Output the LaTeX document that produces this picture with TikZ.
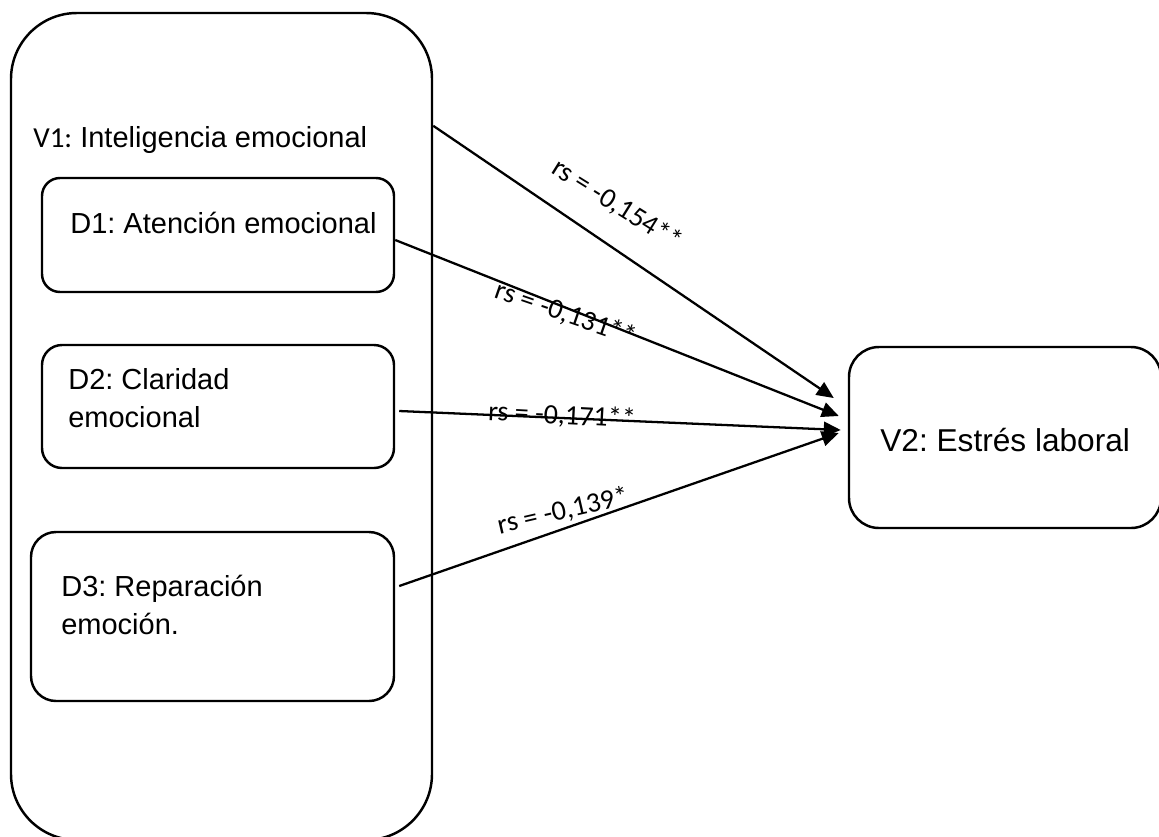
\documentclass[tikz,border=0pt]{standalone}
\usepackage{fontspec}
\setmainfont{Liberation Sans}
\newfontfamily\calibri{Carlito}
\usetikzlibrary{arrows.meta}
\frenchspacing
\def\px{0.02cm}
\tikzset{
  varbox/.style={draw,line width=1.4pt,inner sep=0pt},
  txt/.style={anchor=base west,inner sep=0pt,align=left,font=\fontsize{16.5}{21.5}\selectfont},
  rlbl/.style={inner sep=0pt,font=\calibri\fontsize{16}{19}\selectfont},
  link/.style={line width=1.3pt,-{Triangle[length=0.34cm,width=0.3cm]}}
}

\begin{document}
\begin{tikzpicture}[x=0.02cm,y=-0.02cm]
\useasboundingbox (0,0) rectangle (1159,836);
% variable 1 and its dimensions
\node[varbox,rounded corners=66*\px,minimum width=421*\px,minimum height=827*\px] (v1) at (221.5,426.5) {};
\node[txt] (v1t) at (33,147) {{\calibri V1:} Inteligencia emocional};
\node[varbox,rounded corners=18*\px,minimum width=352*\px,minimum height=114*\px] (d1) at (218,235) {};
\node[varbox,rounded corners=20*\px,minimum width=352*\px,minimum height=123*\px] (d2) at (218,406.5) {};
\node[varbox,rounded corners=25*\px,minimum width=363*\px,minimum height=169*\px] (d3) at (212.5,616.5) {};
\node[txt] (d1t) at (70,233) {D1: Atención emocional};
\node[txt] (d2t) at (68,427) {D2: Claridad\\emocional};
\node[txt] (d3t) at (61,634) {D3: Reparación\\emoción.};
% variable 2
\node[varbox,rounded corners=30*\px,minimum width=312*\px,minimum height=181*\px] (v2) at (1005,437.5) {};
\node[txt,font=\fontsize{18}{21}\selectfont] (v2t) at (880,451) {V2: Estrés laboral};
% correlations
\draw[link] ([yshift=-114*\px]v1.north east) -- ([xshift=-14*\px,yshift=39.5*\px]v2.west);
\draw[link] ([yshift=-5*\px]d1.east) -- ([xshift=-9*\px,yshift=21.5*\px]v2.west);
\draw[link] ([xshift=4*\px,yshift=-4.5*\px]d2.east) -- ([xshift=-7*\px,yshift=7.5*\px]v2.west);
\draw[link] ([xshift=4*\px,yshift=30.5*\px]d3.east) -- ([xshift=-9*\px,yshift=4.5*\px]v2.west);
\node[rlbl,rotate=-32] (r1) at (617,205) {rs = -0,154**};
\node[rlbl,rotate=-19] (r2) at (566,314) {rs = -0,131**};
\node[rlbl,rotate=-3] (r3) at (562,416) {rs = -0,171**};
\node[rlbl,rotate=13] (r4) at (563,511) {rs = -0,139*};
\end{tikzpicture}
\end{document}
